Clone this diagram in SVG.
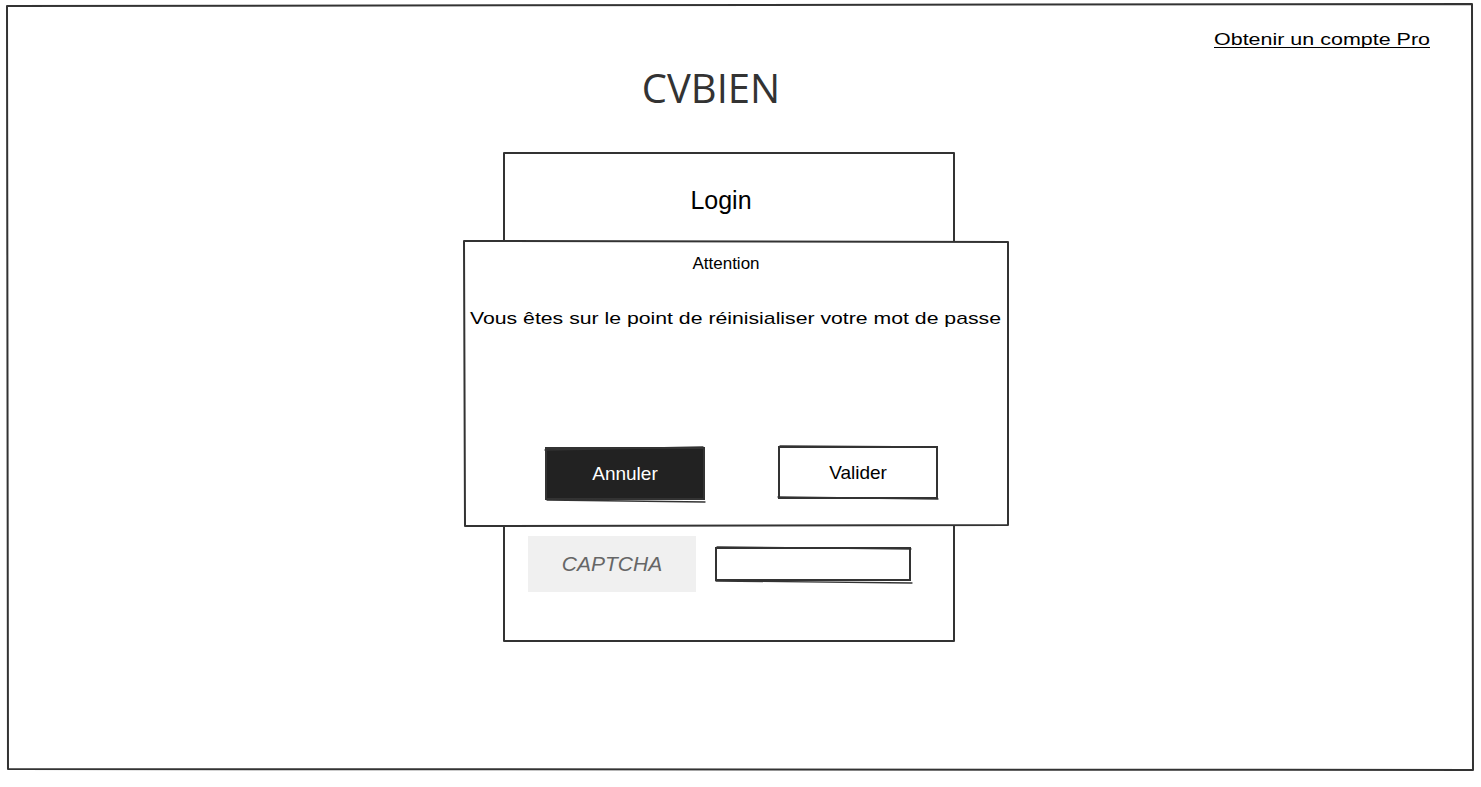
<svg xmlns="http://www.w3.org/2000/svg" width="1481" height="787" viewBox="0 0 1481 787">
<style>
.frame{fill:#fff;stroke:#333;stroke-width:2;stroke-linejoin:round}
.sk{fill:none;stroke:#333;stroke-width:1.3;stroke-linecap:round}
.hand{font-family:"Liberation Sans","Open Sans",sans-serif;fill:#000}
</style>
<rect width="1481" height="787" fill="#fff"/>
<g id="page">
<path class="frame" d="M7,6 L1472,4 L1473,770 L8,769 Z"/>
</g>
<g id="pro-link">
<text class="hand" x="1214" y="45" font-size="17" textLength="216" lengthAdjust="spacingAndGlyphs">Obtenir un compte Pro</text>
<line x1="1214" y1="47.5" x2="1430" y2="47.5" stroke="#000" stroke-width="1.2"/>
</g>
<g id="title">
<text x="711" y="103" font-family="'Open Sans','Noto Sans',sans-serif" font-size="40" fill="#333" text-anchor="middle">CVBIEN</text>
</g>
<g id="login-panel">
<path class="frame" d="M504,153 L954,153 L954,641 L504,641 Z"/>
<text class="hand" x="721" y="209" font-size="25" text-anchor="middle">Login</text>
</g>
<g id="captcha">
<rect x="528" y="536" width="168" height="56" fill="#f0f0f0"/>
<text x="612" y="571" font-family="'Liberation Sans',sans-serif" font-size="21" fill="#666" text-anchor="middle" font-style="italic">CAPTCHA</text>
</g>
<g id="captcha-input">
<rect x="716" y="548" width="194" height="32" fill="#fff" stroke="#333" stroke-width="2"/>
<path class="sk" d="M717,547 L911,549 M716,581 L912,583"/>
</g>
<g id="modal">
<path class="frame" d="M464,241 L1008,242 L1008,525 L465,526 Z"/>
<text class="hand" x="726" y="269" font-size="17" text-anchor="middle">Attention</text>
<text class="hand" x="470" y="324" font-size="17" textLength="531" lengthAdjust="spacingAndGlyphs">Vous êtes sur le point de réinisialiser votre mot de passe</text>
</g>
<g id="btn-annuler">
<rect x="546" y="448" width="158" height="51" fill="#222" stroke="#333" stroke-width="2"/>
<path class="sk" d="M545,450 L703,447 M547,500 L705,502"/>
<text class="hand" x="625" y="480" font-size="19" fill="#fff" text-anchor="middle" style="fill:#fff">Annuler</text>
</g>
<g id="btn-valider">
<rect x="779" y="447" width="158" height="51" fill="#fff" stroke="#333" stroke-width="2"/>
<path class="sk" d="M780,446 L934,447 M778,497 L938,499"/>
<text class="hand" x="858" y="479" font-size="19" text-anchor="middle">Valider</text>
</g>
<g id="connectors"></g>
</svg>
